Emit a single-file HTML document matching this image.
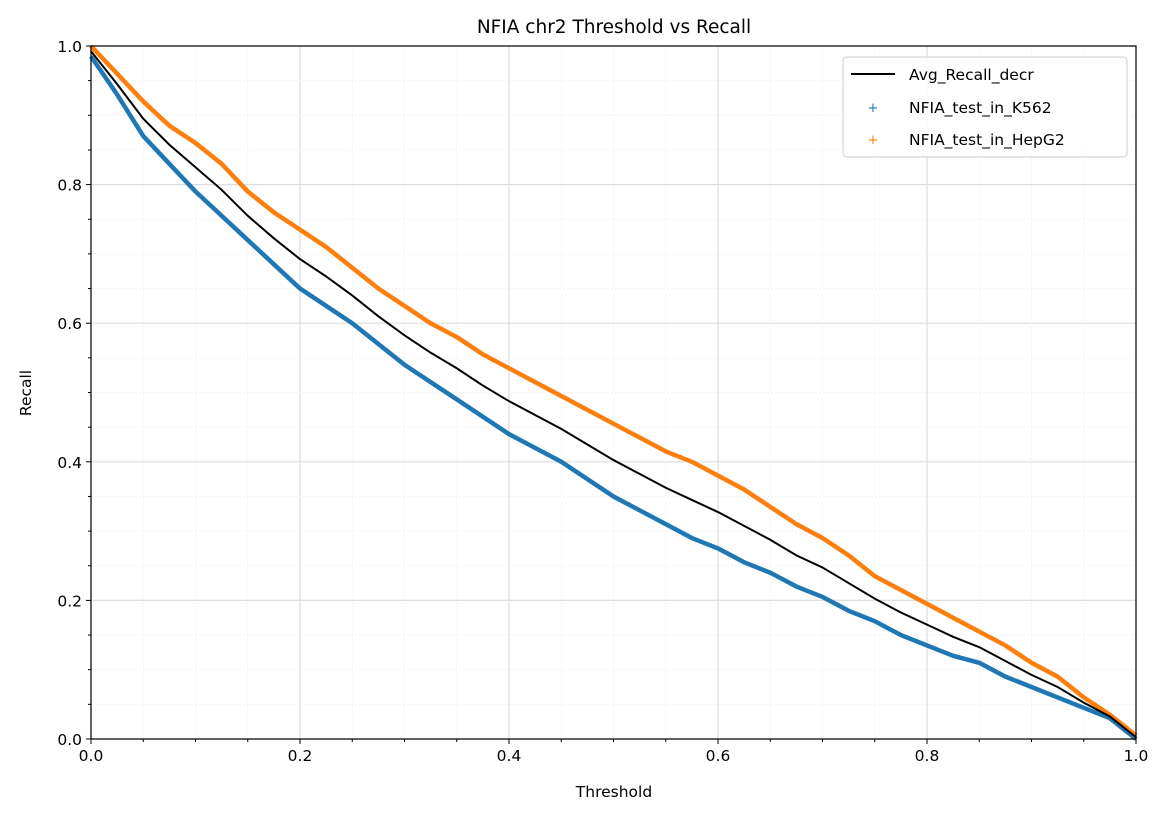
<!DOCTYPE html>
<html><head><meta charset="utf-8"><style>
body{margin:0;background:#fff;font-family:"Liberation Sans","DejaVu Sans",sans-serif;}
text{font-family:"DejaVu Sans","Liberation Sans",sans-serif;}
</style></head><body>
<svg id="chart" width="1168" height="817" xmlns="http://www.w3.org/2000/svg">
<rect width="1168" height="817" fill="#fff"/>
<g id="grid"></g>
<g id="series"></g>
<rect x="91" y="46" width="1045" height="693" fill="none" stroke="#000" stroke-width="1.2"/>
<g id="axes"></g>
<text x="614" y="33" text-anchor="middle" font-size="18.5">NFIA chr2 Threshold vs Recall</text>
<text x="614" y="797" text-anchor="middle" font-size="15.5">Threshold</text>
<text x="31" y="393" text-anchor="middle" font-size="15.5" transform="rotate(-90 31 393)">Recall</text>
<g>
<rect x="843" y="57" width="284" height="100" rx="4" fill="#fff" fill-opacity="0.85" stroke="#ccc"/>
<line x1="851" y1="74" x2="895" y2="74" stroke="#000" stroke-width="2"/>
<text x="909" y="80" font-size="15.5">Avg_Recall_decr</text>
<text x="873" y="112" font-size="13" fill="#1f77b4" text-anchor="middle">+</text>
<text x="909" y="113" font-size="15.5">NFIA_test_in_K562</text>
<text x="873" y="144" font-size="13" fill="#ff7f0e" text-anchor="middle">+</text>
<text x="909" y="145" font-size="15.5">NFIA_test_in_HepG2</text>
</g>
</svg>
<script>
const thresholds=[0,0.025,0.05,0.075,0.1,0.125,0.15,0.175,0.2,0.225,0.25,0.275,0.3,0.325,0.35,0.375,0.4,0.425,0.45,0.475,0.5,0.525,0.55,0.575,0.6,0.625,0.65,0.675,0.7,0.725,0.75,0.775,0.8,0.825,0.85,0.875,0.9,0.925,0.95,0.975,1.0];
const recallK562=[0.985,0.93,0.87,0.83,0.79,0.755,0.72,0.685,0.65,0.625,0.60,0.57,0.54,0.515,0.49,0.465,0.44,0.42,0.40,0.375,0.35,0.33,0.31,0.29,0.275,0.255,0.24,0.22,0.205,0.185,0.17,0.15,0.135,0.12,0.11,0.09,0.075,0.06,0.045,0.03,0];
const recallHepG2=[1.0,0.96,0.92,0.885,0.86,0.83,0.79,0.76,0.735,0.71,0.68,0.65,0.625,0.60,0.58,0.555,0.535,0.515,0.495,0.475,0.455,0.435,0.415,0.40,0.38,0.36,0.335,0.31,0.29,0.265,0.235,0.215,0.195,0.175,0.155,0.135,0.11,0.09,0.06,0.035,0.005];
const tickLabels=["0.0","0.2","0.4","0.6","0.8","1.0"];
const NS="http://www.w3.org/2000/svg";
const X0=91,W=1045,Y0=739,H=693;
const xs=v=>X0+v*W, ys=v=>Y0-v*H;
function mk(tag,attrs,parent){const e=document.createElementNS(NS,tag);for(const k in attrs)e.setAttribute(k,attrs[k]);parent.appendChild(e);return e;}
const grid=document.getElementById('grid'),axes=document.getElementById('axes'),ser=document.getElementById('series');
for(let i=0;i<=20;i++){const v=i*0.05;const major=i%4===0;
 const gx=mk('line',{x1:xs(v),x2:xs(v),y1:46,y2:739,stroke:major?'#ddd':'#f0f0f0','stroke-width':major?1.2:0.8,'stroke-dasharray':major?'':'2,2'},grid);
 
 const gy=mk('line',{y1:ys(v),y2:ys(v),x1:91,x2:1136,stroke:major?'#ddd':'#f0f0f0','stroke-width':major?1.2:0.8,'stroke-dasharray':major?'':'2,2'},grid);
 
 const len=major?5:3;
 mk('line',{x1:xs(v),x2:xs(v),y1:739,y2:739+len,stroke:'#000'},axes);
 mk('line',{y1:ys(v),y2:ys(v),x1:91-len,x2:91,stroke:'#000'},axes);
}
tickLabels.forEach((t,i)=>{const v=i*0.2;
 const a=mk('text',{x:xs(v),y:761,'text-anchor':'middle','font-size':15.5},axes);a.textContent=t;
 
 const b=mk('text',{x:82,y:ys(v)+6,'text-anchor':'end','font-size':15.5},axes);b.textContent=t;
 
});
function pts(arr){return thresholds.map((t,i)=>xs(t)+','+ys(arr[i])).join(' ');}
const avg=recallK562.map((v,i)=>(v+recallHepG2[i])/2);
const p1=mk('polyline',{points:pts(recallK562),fill:'none',stroke:'#1f77b4','stroke-width':4.5,'stroke-linejoin':'round'},ser);

const p2=mk('polyline',{points:pts(recallHepG2),fill:'none',stroke:'#ff7f0e','stroke-width':4.5,'stroke-linejoin':'round'},ser);

const p3=mk('polyline',{points:pts(avg),fill:'none',stroke:'#000','stroke-width':2},ser);

</script>
</body></html>
